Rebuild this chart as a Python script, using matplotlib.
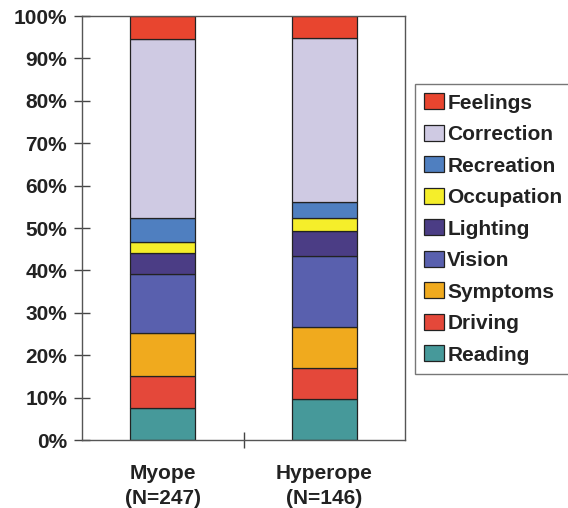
import matplotlib
matplotlib.use("Agg")
import matplotlib.pyplot as plt
import numpy as np

plt.rcParams['font.family'] = ['Liberation Sans', 'DejaVu Sans']

groups = ["Myope\n(N=247)", "Hyperope\n(N=146)"]
categories = ["Reading", "Driving", "Symptoms", "Vision", "Lighting",
              "Occupation", "Recreation", "Correction", "Feelings"]
myope = [7.5, 7.6, 10.1, 13.9, 4.9, 2.6, 5.8, 42.2, 5.4]
hyperope = [9.6, 7.3, 9.8, 16.6, 5.9, 3.2, 3.7, 38.8, 5.1]
colors = ["#46999A", "#E4483A", "#F0AA1E", "#5960AE", "#4B3D85",
          "#F5EE2A", "#4F7FC0", "#CFCAE3", "#E8452F"]
yticks = [0, 10, 20, 30, 40, 50, 60, 70, 80, 90, 100]

fig = plt.figure(figsize=(5.68, 5.08), dpi=100)
ax = fig.add_axes([82/568, 1-440/508, 323/568, 424/508])

x = np.array([0.5, 1.5])
data = np.array([myope, hyperope])
bottom = np.zeros(2)
handles = []
for i, cat in enumerate(categories):
    h = ax.bar(x, data[:, i], 0.4, bottom=bottom, color=colors[i],
               edgecolor="#222222", linewidth=0.9, label=cat)
    handles.append(h)
    bottom += data[:, i]

ax.set_xlim(0, 2)
ax.set_ylim(0, 100)
ax.set_yticks(yticks)
ax.set_yticklabels([f"{t}%" for t in yticks], fontsize=15, fontweight='bold', color="#222222")
ax.tick_params(axis='y', direction='inout', length=11.5, width=1, color="#444444", pad=5)
ax.set_xticks(x)
ax.set_xticklabels(groups, fontsize=15, fontweight='bold', color="#222222", linespacing=1.45)
ax.tick_params(axis='x', which='major', length=0, pad=17)
ax.set_xticks([1], minor=True)
ax.tick_params(axis='x', which='minor', direction='inout', length=11, width=1, color="#444444")
for s in ax.spines.values():
    s.set_color("#555555")
    s.set_linewidth(1)

leg = fig.legend(handles[::-1], categories[::-1], loc='upper left',
                 bbox_to_anchor=(415/568, 1-84/508),
                 prop={'weight': 'bold', 'size': 15},
                 frameon=True, fancybox=False, edgecolor="#555555",
                 handlelength=0.95, handleheight=0.8, handletextpad=0.15,
                 labelspacing=0.59, borderpad=0.45, borderaxespad=0)
leg.get_frame().set_linewidth(1)
for t in leg.get_texts():
    t.set_color("#222222")

fig.savefig("out.png", dpi=100)
